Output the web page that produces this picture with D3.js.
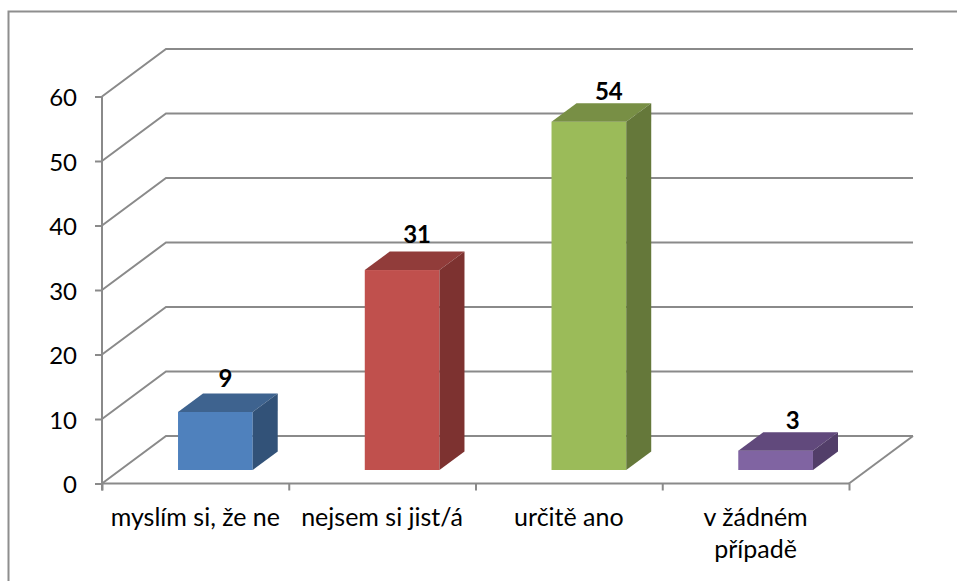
<!DOCTYPE html>
<html>
<head>
<meta charset="utf-8">
<script src="https://cdn.jsdelivr.net/npm/d3@7"></script>
<style>
html, body { margin: 0; padding: 0; background: #fff; }
svg { display: block; }
text { font-family: Lato, "Open Sans", sans-serif; fill: #000; }
</style>
</head>
<body>
<div id="chart"></div>
<script>
const categories = ["myslím si, že ne", "nejsem si jist/á", "určitě ano", "v žádném případě"];
const values = [9, 31, 54, 3];
const tickValues = [0, 10, 20, 30, 40, 50, 60];
const frontColors = ["#4f81bd", "#c0504d", "#9bbb59", "#8064a2"];
const topColors = ["#3e638f", "#913c3a", "#788f45", "#61497c"];
const sideColors = ["#325278", "#7d3230", "#65783a", "#523e69"];

const width = 957, height = 581;
const grey = "#8a8a8a";
const fontSize = 24;

// 3d offsets of the box
const wallX = 64, wallY = -47.5;
const barDepthX = 25, barDepthY = -18.5;
const barLiftY = -13.5, barLiftX = 20;

// the value labels are not placed evenly in the original
const labelNudgeX = [10, 15, 20, 17];
const labelNudgeY = [-6, -9, -3, -3];

const svg = d3.select("#chart").append("svg")
    .attr("width", width)
    .attr("height", height);

const y = d3.scaleLinear().domain([0, 60]).range([483.5, 96.5]);
const x = d3.scaleBand().domain(categories).range([102, 849])
    .paddingInner(0).paddingOuter(0);
const barWidth = 74.7;

// outer frame, only left and top are visible
svg.append("path")
    .attr("d", "M8.5,581V11.5H957")
    .attr("fill", "none")
    .attr("stroke", "#8e8e8e")
    .attr("stroke-width", 2);

// grid lines on side wall and back wall
svg.append("g").selectAll("path")
    .data(tickValues)
    .join("path")
    .attr("d", d => `M102,${y(d)}L${102 + wallX},${y(d) + wallY}H${849 + wallX}`)
    .attr("fill", "none")
    .attr("stroke", grey)
    .attr("stroke-width", 2);

// floor edge on the right
svg.append("path")
    .attr("d", `M849,${y(0)}L${849 + wallX},${y(0) + wallY}`)
    .attr("fill", "none")
    .attr("stroke", grey)
    .attr("stroke-width", 2);

// axes
const yAxis = d3.axisLeft(y).tickValues(tickValues).tickSize(7).tickPadding(18);
const gy = svg.append("g").attr("transform", "translate(102,0)").call(yAxis);
gy.selectAll("line, path").attr("stroke", grey).attr("stroke-width", 2);
gy.select(".domain").attr("d", `M0,${y(60)}V${y(0) + 7}`);
gy.selectAll("text").attr("font-size", fontSize).attr("dy", "0.38em");

const xAxis = d3.axisBottom(d3.scaleLinear().domain([0, 4]).range([102, 849]))
    .ticks(4).tickSize(7).tickFormat("");
const gx = svg.append("g").attr("transform", `translate(0,${y(0)})`).call(xAxis);
gx.selectAll("line, path").attr("stroke", grey).attr("stroke-width", 2);
gx.select(".domain").attr("d", "M102,0H849");

// wrapped category labels
const labelLines = d => d === "v žádném případě" ? ["v žádném", "případě"] : [d];
svg.append("g").selectAll("text")
    .data(categories)
    .join("text")
    .attr("text-anchor", "middle")
    .attr("font-size", 25)
    .attr("y", 526)
    .each(function (d) {
        d3.select(this).selectAll("tspan")
            .data(labelLines(d))
            .join("tspan")
            .attr("x", x(d) + x.bandwidth() / 2)
            .attr("dy", (l, i) => i ? 32 : 0)
            .text(l => l);
    });

// bars
const bars = svg.append("g").selectAll("g")
    .data(categories)
    .join("g");

const barLeft = d => x(d) + (x.bandwidth() - barWidth) / 2 + barLiftX;
const barBase = y(0) + barLiftY;
const barTop = (d, i) => barBase - (y(0) - y(values[i]));

bars.append("rect")
    .attr("x", barLeft)
    .attr("y", barTop)
    .attr("width", barWidth)
    .attr("height", (d, i) => barBase - barTop(d, i))
    .attr("fill", (d, i) => frontColors[i]);

bars.append("path")
    .attr("d", (d, i) => {
        const l = barLeft(d), t = barTop(d, i);
        return `M${l},${t}l${barDepthX},${barDepthY}h${barWidth}l${-barDepthX},${-barDepthY}Z`;
    })
    .attr("fill", (d, i) => topColors[i]);

bars.append("path")
    .attr("d", (d, i) => {
        const r = barLeft(d) + barWidth, t = barTop(d, i);
        return `M${r},${t}l${barDepthX},${barDepthY}V${barBase + barDepthY}l${-barDepthX},${-barDepthY}Z`;
    })
    .attr("fill", (d, i) => sideColors[i]);

// value labels
bars.append("text")
    .attr("x", (d, i) => barLeft(d) + barWidth / 2 + labelNudgeX[i])
    .attr("y", (d, i) => barTop(d, i) + barDepthY + labelNudgeY[i])
    .attr("text-anchor", "middle")
    .attr("font-size", fontSize)
    .attr("font-weight", 700)
    .text((d, i) => values[i]);
</script>
</body>
</html>
